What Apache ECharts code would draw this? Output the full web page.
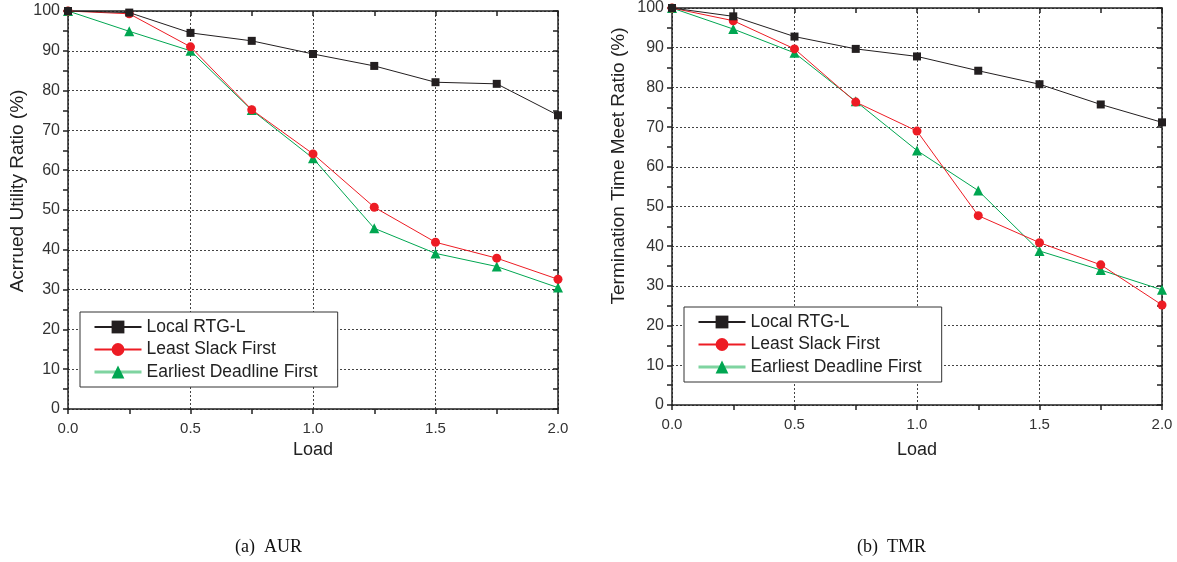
<!DOCTYPE html>
<html>
<head>
<meta charset="utf-8">
<script src="https://cdn.jsdelivr.net/npm/echarts@6/dist/echarts.min.js"></script>
<style>
  html, body { margin: 0; padding: 0; background: #fff; }
  #chart { width: 1177px; height: 562px; }
</style>
</head>
<body>
<div id="chart"></div>
<script>
// load values (x axis)
const loads = [0, 0.25, 0.5, 0.75, 1.0, 1.25, 1.5, 1.75, 2.0]
const seriesNames = ["Local RTG-L", "Least Slack First", "Earliest Deadline First"]

// (a) AUR
const aurRtg = [100, 99.6, 94.5, 92.5, 89.2, 86.2, 82.1, 81.7, 73.8]
const aurLsf = [100, 99.3, 91.0, 75.2, 64.1, 50.7, 41.9, 37.9, 32.6]
const aurEdf = [100, 94.9, 90.0, 75.1, 63.0, 45.4, 39.1, 35.8, 30.5]

// (b) TMR
const tmrRtg = [100, 97.9, 92.8, 89.7, 87.8, 84.2, 80.8, 75.7, 71.2]
const tmrLsf = [100, 96.8, 89.7, 76.3, 69.0, 47.7, 40.9, 35.3, 25.2]
const tmrEdf = [100, 94.7, 88.7, 76.5, 64.1, 54.0, 38.8, 34.0, 29.0]

const yTicks = [0, 10, 20, 30, 40, 50, 60, 70, 80, 90, 100]
const xTicks = ["0.0", "0.5", "1.0", "1.5", "2.0"]

const font = "Liberation Sans"
const colors = ["#231f20", "#ed1c24", "#00a651"]
const symbols = ["rect", "circle", "triangle"]
const symbolSizes = [8, 9, 10]

const chart = echarts.init(document.getElementById("chart"))

function pairs(vals) {
  return loads.map((x, i) => [x, vals[i]])
}

// bottom / left axes carry labels; top / right axes only close the frame
function xAxisFor(gridIndex, pos, gap) {
  const main = pos === "bottom"
  return {
    type: "value", gridIndex: gridIndex, position: pos,
    min: 0, max: 2, interval: 0.5,
    name: main ? "Load" : "", nameLocation: "middle", nameGap: gap,
    nameTextStyle: { fontFamily: font, fontSize: 18, color: "#222" },
    axisLine: { show: true, onZero: false, lineStyle: { color: "#222", width: 1.5 } },
    axisTick: { show: true, inside: !main, length: 5, lineStyle: { color: "#222", width: 1.5 } },
    minorTick: { show: true, splitNumber: 2, length: 5, lineStyle: { color: "#222", width: 1.5 } },
    axisLabel: {
      show: main, margin: 12, fontFamily: font, fontSize: 15, color: "#333",
      formatter: v => xTicks[Math.round(v / 0.5)]
    },
    splitLine: { show: main, lineStyle: { type: [2, 2], color: "#444", width: 1 } }
  }
}

function yAxisFor(gridIndex, pos) {
  const main = pos === "left"
  return {
    type: "value", gridIndex: gridIndex, position: pos,
    min: 0, max: 100, interval: 10,
    axisLine: { show: true, onZero: false, lineStyle: { color: "#222", width: 1.5 } },
    axisTick: { show: true, inside: !main, length: 5, lineStyle: { color: "#222", width: 1.5 } },
    minorTick: { show: true, splitNumber: 2, length: 5, lineStyle: { color: "#222", width: 1.5 } },
    axisLabel: {
      show: main, margin: 8, fontFamily: font, fontSize: 16, color: "#333",
      formatter: v => String(yTicks[Math.round(v / 10)])
    },
    splitLine: { show: main, lineStyle: { type: [2, 2], color: "#444", width: 1 } }
  }
}

function lineSeries(i, axisIndex, vals) {
  return {
    type: "line", name: seriesNames[i],
    xAxisIndex: axisIndex, yAxisIndex: axisIndex,
    data: pairs(vals),
    symbol: symbols[i], symbolSize: symbolSizes[i],
    showAllSymbol: true,
    color: colors[i],
    lineStyle: { color: colors[i], width: 1 },
    itemStyle: { color: colors[i] },
    z: 10 - i,
    animation: false
  }
}

function legendFor(left, top) {
  return {
    orient: "vertical", left: left, top: top,
    padding: [6, 20, 6, 13],
    itemWidth: 47, itemHeight: 16, itemGap: 4.5,
    borderColor: "#333", borderWidth: 1,
    backgroundColor: "#fff",
    textStyle: { fontFamily: font, fontSize: 17.5, lineHeight: 18, color: "#222" },
    selectedMode: false,
    z: 20,
    data: [
      { name: seriesNames[0] },
      { name: seriesNames[1] },
      { name: seriesNames[2], lineStyle: { color: "#7fd4a0", width: 3 } }
    ]
  }
}

// rotated y-axis titles
function yTitle(text, x, y) {
  return {
    type: "text", x: x, y: y, rotation: Math.PI / 2,
    style: {
      text: text, font: "19px 'Liberation Sans'", fill: "#222",
      align: "center", verticalAlign: "middle"
    }
  }
}

chart.setOption({
  animation: false,
  grid: [
    { left: 68, top: 11, width: 490, height: 398 },
    { left: 672, top: 7, width: 490, height: 398 }
  ],
  xAxis: [
    xAxisFor(0, "bottom", 31),
    xAxisFor(1, "bottom", 36),
    xAxisFor(0, "top", 0),
    xAxisFor(1, "top", 0)
  ],
  yAxis: [
    yAxisFor(0, "left"),
    yAxisFor(1, "left"),
    yAxisFor(0, "right"),
    yAxisFor(1, "right")
  ],
  legend: [legendFor(80, 312), legendFor(684, 307)],
  series: [
    lineSeries(0, 0, aurRtg),
    lineSeries(1, 0, aurLsf),
    lineSeries(2, 0, aurEdf),
    lineSeries(0, 1, tmrRtg),
    lineSeries(1, 1, tmrLsf),
    lineSeries(2, 1, tmrEdf)
  ],
  graphic: [
    yTitle("Acrrued Utility Ratio (%)", 18, 191),
    yTitle("Termination Time Meet Ratio (%)", 619, 166),
    { type: "text", left: 235, top: 538,
      style: { text: "(a)  AUR", font: "18px 'Liberation Serif'", fill: "#111" } },
    { type: "text", left: 857, top: 538,
      style: { text: "(b)  TMR", font: "18px 'Liberation Serif'", fill: "#111" } }
  ]
})
</script>
</body>
</html>
